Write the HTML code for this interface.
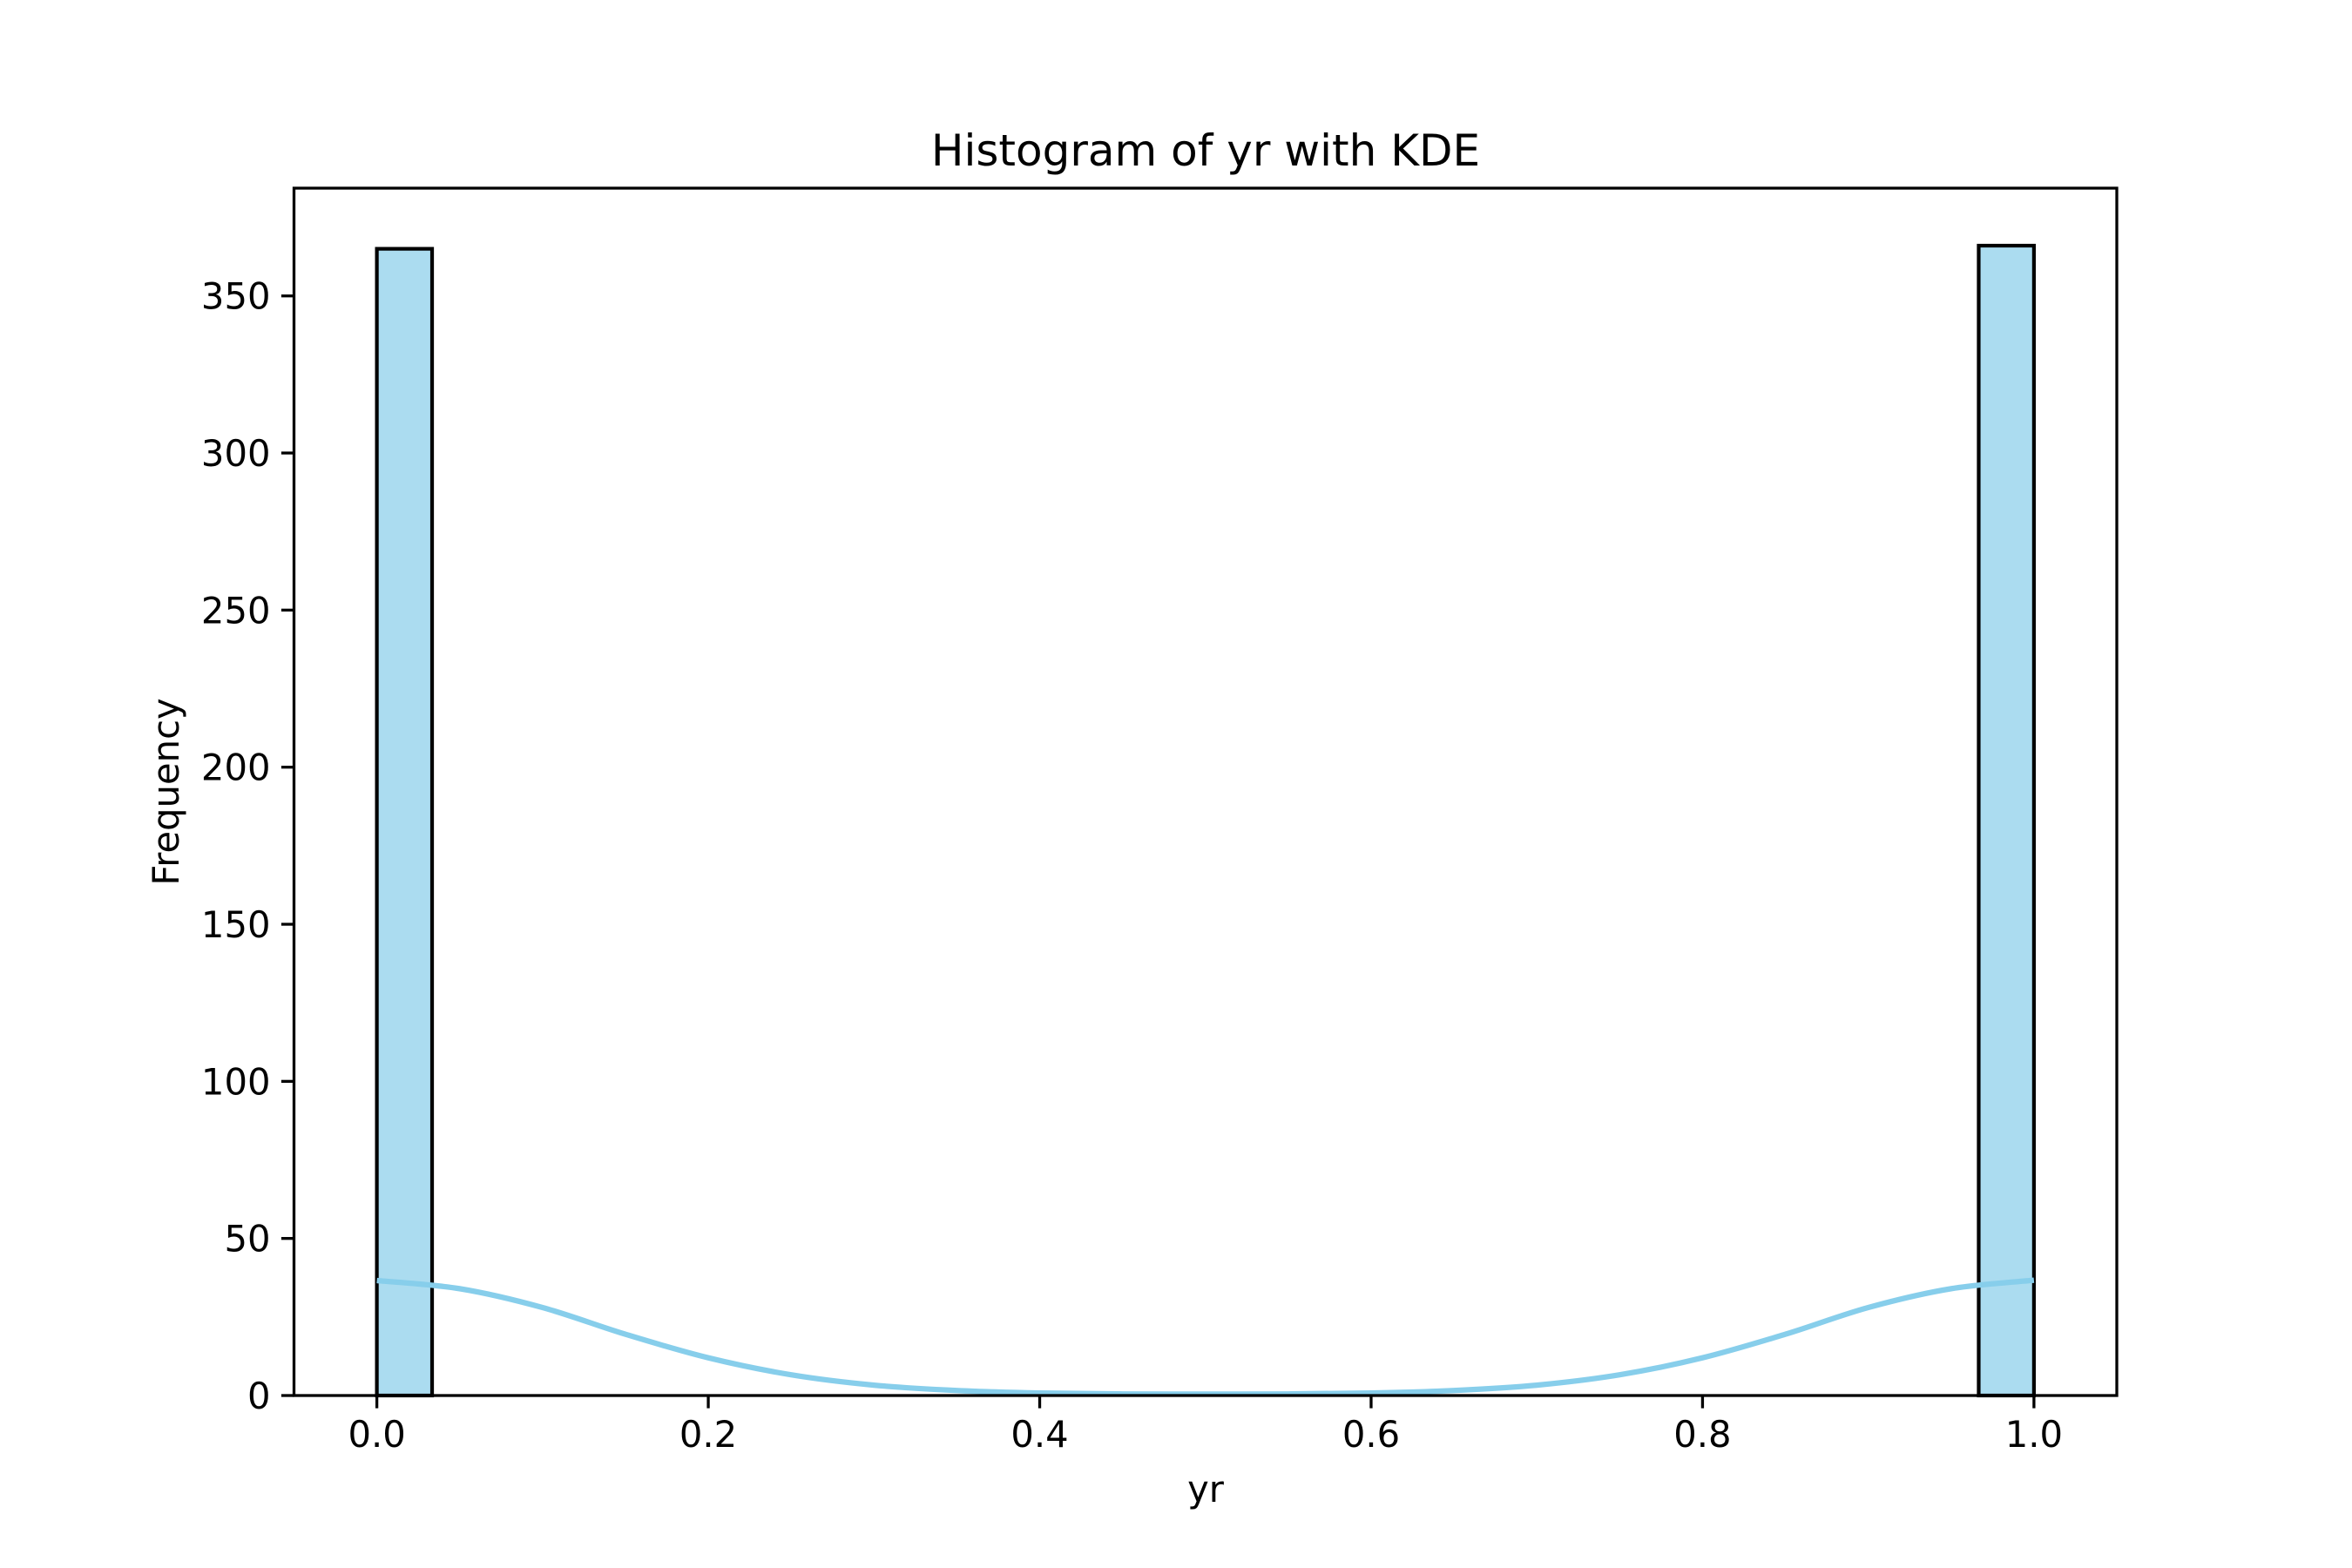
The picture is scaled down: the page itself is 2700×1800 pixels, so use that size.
<!DOCTYPE html>
<html><head><meta charset="utf-8"><style>
html,body{margin:0;padding:0;background:#fff;}
svg{display:block;font-family:"DejaVu Sans","Liberation Sans",sans-serif;}
</style></head><body>
<svg id="chart" width="2700" height="1800" viewBox="0 0 2700 1800">
<rect x="0" y="0" width="2700" height="1800" fill="#fff"/>
<text x="1384" y="190" font-size="50" text-anchor="middle">Histogram of yr with KDE</text>
<g id="bars"></g>
<path id="kde" fill="none" stroke="#87ceeb" stroke-width="6.25" stroke-linejoin="round"/>
<g id="axes"></g>
<text x="1384" y="1724" font-size="41.7" text-anchor="middle">yr</text>
<text transform="translate(205,909) rotate(-90)" font-size="41.7" text-anchor="middle">Frequency</text>
</svg>
<script>
const binCounts = [365,0,0,0,0,0,0,0,0,0,0,0,0,0,0,0,0,0,0,0,0,0,0,0,0,0,0,0,0,366];
const kdeX = [0,0.05,0.1,0.15,0.2,0.25,0.3,0.35,0.4,0.45,0.5,0.55,0.6,0.65,0.7,0.75,0.8,0.85,0.9,0.95,1.0];
const kdeY = [36.6,34,28,19.5,12,6.6,3.3,1.6,0.8,0.5,0.45,0.5,0.8,1.6,3.3,6.6,12,19.5,28,34,36.7];
const xTicks = [0,0.2,0.4,0.6,0.8,1.0];
const xTickLabels = ["0.0","0.2","0.4","0.6","0.8","1.0"];
const yTicks = [0,50,100,150,200,250,300,350];

const L=337.5,R=2430,T=216,B=1602;
const xMin=-0.05,xMax=1.05,yMax=384.3;
const sx=v=>L+(v-xMin)/(xMax-xMin)*(R-L);
const sy=v=>B-v/yMax*(B-T);
const NS="http://www.w3.org/2000/svg";
function mk(tag,attrs,parent){const e=document.createElementNS(NS,tag);for(const k in attrs)e.setAttribute(k,attrs[k]);parent.appendChild(e);return e;}

const bars=document.getElementById('bars');
const bw=1/binCounts.length;
binCounts.forEach((c,i)=>{
  const x0=sx(i*bw),x1=sx((i+1)*bw);
  const r=mk('rect',{x:x0,y:sy(c),width:x1-x0,height:B-sy(c),fill:'#abdcf0',stroke:'#000','stroke-width':4.2},bars);
  
  
});

const pts=kdeX.map((x,i)=>[sx(x),sy(kdeY[i])]);
let d='M'+pts[0][0]+','+pts[0][1];
for(let i=0;i<pts.length-1;i++){
  const p0=pts[Math.max(0,i-1)],p1=pts[i],p2=pts[i+1],p3=pts[Math.min(pts.length-1,i+2)];
  const c1=[p1[0]+(p2[0]-p0[0])/6,p1[1]+(p2[1]-p0[1])/6];
  const c2=[p2[0]-(p3[0]-p1[0])/6,p2[1]-(p3[1]-p1[1])/6];
  d+=` C${c1[0]},${c1[1]} ${c2[0]},${c2[1]} ${p2[0]},${p2[1]}`;
}
document.getElementById('kde').setAttribute('d',d);

const axes=document.getElementById('axes');
const frame=mk('rect',{x:L,y:T,width:R-L,height:B-T,fill:'none',stroke:'#000','stroke-width':3.3},axes);


xTicks.forEach((v,i)=>{
  const x=sx(v);
  const t=mk('line',{x1:x,x2:x,y1:B,y2:B+14.6,stroke:'#000','stroke-width':3.3},axes);
  
  
  const lb=mk('text',{x:x,y:B+59,'font-size':41.7,'text-anchor':'middle'},axes);
  lb.textContent=xTickLabels[i];
  
  
});
yTicks.forEach(v=>{
  const y=sy(v);
  const t=mk('line',{x1:L-14.6,x2:L,y1:y,y2:y,stroke:'#000','stroke-width':3.3},axes);
  
  
  const lb=mk('text',{x:L-27,y:y+15,'font-size':41.7,'text-anchor':'end'},axes);
  lb.textContent=String(v);
  
  
});
</script>
</body></html>
